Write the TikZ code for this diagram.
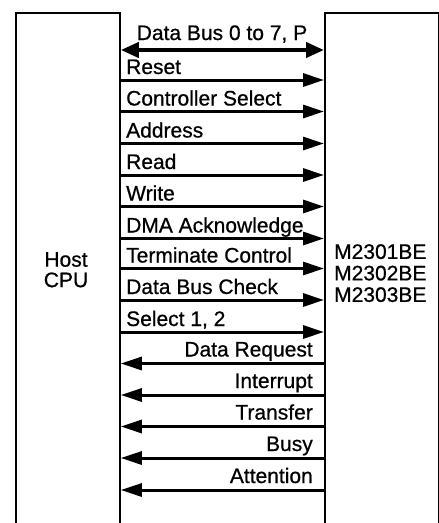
\documentclass[tikz,border=0pt]{standalone}
\usepackage{fontspec}
\setmainfont[FakeBold=0.7]{Liberation Sans}
\usetikzlibrary{arrows.meta}
\tikzset{
  box/.style={draw, line width=1.8pt, inner sep=0pt, anchor=north west},
  sig/.style={line width=3pt, -{Triangle[length=21pt,width=13pt]}},
  bus/.style={line width=4pt, {Triangle[length=18pt,width=15pt]}-{Triangle[length=18pt,width=15pt]}},
  lab/.style={inner sep=0pt, font=\fontsize{21}{22}\selectfont},
}
\begin{document}
\begin{tikzpicture}[x=1pt,y=-1pt]
\useasboundingbox (0,0) rectangle (439,523);
\clip (0,0) rectangle (439,523);
\node[box, minimum width=104pt, minimum height=540pt] (host) at (15,12) {};
\node[box, minimum width=114pt, minimum height=540pt] (dev) at (324,12) {};
\node[lab, align=center, anchor=north, font=\fontsize{21}{20.5}\selectfont] (hostlab) at (66,252) {Host\\CPU};
\node[lab, align=left, anchor=north west, font=\fontsize{21}{21.5}\selectfont] (devlab) at (334,244) {M2301BE\\M2302BE\\M2303BE};
% data bus
\draw[bus] (host.east |- 0,50) -- (dev.west |- 0,50);
\node[lab, anchor=base] (lbus) at (222,40) {Data Bus 0 to 7, P};
% host to device
\foreach \y/\t [count=\i] in {80/Reset, 111.5/Controller Select, 143.5/Address, 175/Read, 206.5/Write, 238.5/DMA Acknowledge, 268.5/Terminate Control, 300/Data Bus Check, 332/{Select 1, 2}}{
  \draw[sig] (host.east |- 0,\y) -- (dev.west |- 0,\y);
  \node[lab, anchor=base west] (o\i) at (126,\y-6) {\t};
}
% device to host
\foreach \y/\t [count=\i] in {363.5/Data Request, 395/Interrupt, 426.5/Transfer, 458/Busy, 490/Attention}{
  \draw[sig] (dev.west |- 0,\y) -- (host.east |- 0,\y);
  \node[lab, anchor=base east] (r\i) at (313,\y-7) {\t};
}
\end{tikzpicture}
\end{document}
